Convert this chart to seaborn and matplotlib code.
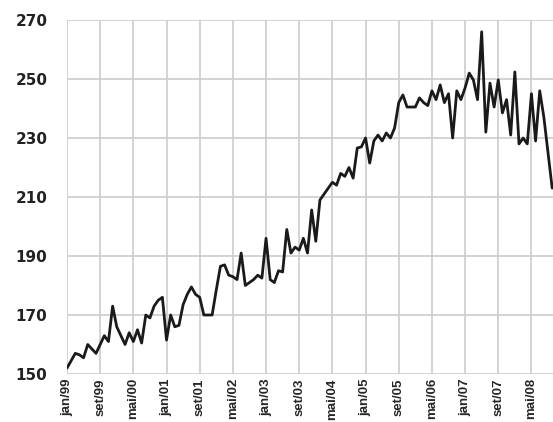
import matplotlib
matplotlib.use("Agg")
import matplotlib.pyplot as plt
import seaborn as sns
import pandas as pd

# Monthly index values, jan/99 .. oct/08
values = [
    152, 154.5, 157, 156.5, 155.5, 160, 158.5, 157, 160, 163, 161, 173,
    166, 163, 160, 164, 161, 165, 160.5, 170, 169, 173, 175, 176,
    161.5, 170, 166, 166.5, 173.5, 177, 179.5, 177, 176, 170, 170, 170,
    178.5, 186.5, 187, 183.5, 183, 182, 191, 180, 181, 182, 183.5, 182.5,
    196, 182, 181, 185, 184.6, 199, 191, 193, 192, 196, 191, 205.6,
    195, 209, 211, 213, 215, 214, 218, 217, 220, 216.4, 226.6, 227,
    230, 221.5, 229, 231, 229, 231.7, 230, 233.4, 242, 244.6, 240.5, 240.5,
    240.5, 243.6, 242, 241, 246, 243, 248, 242, 245, 230, 246, 243,
    247, 252, 249.7, 243, 266, 232, 248.6, 240.5, 249.7, 238.5, 243, 231,
    252.4, 228, 230, 228, 245, 229, 246, 237, 225, 213,
]
month_names = ["jan", "fev", "mar", "abr", "mai", "jun",
               "jul", "ago", "set", "out", "nov", "dez"]
tick_every = 8
y_ticks = [150, 170, 190, 210, 230, 250, 270]

months = list(range(len(values)))
labels = [f"{month_names[m % 12]}/{(99 + m // 12) % 100:02d}" for m in months]
df = pd.DataFrame({"month": months, "value": values})

sns.set_style("white")
fig = plt.figure(figsize=(5.53, 4.22), dpi=100)
ax = fig.add_axes([67 / 553, 1 - 374 / 422, 1 - 67 / 553, (374 - 20) / 422])

sns.lineplot(data=df, x="month", y="value", ax=ax, color="#1a1a1a",
             linewidth=2.0)

tick_pos = months[::tick_every]
ax.set_xticks(tick_pos)
ax.set_xticklabels([labels[i] for i in tick_pos], rotation=90,
                   fontsize=9.5, fontweight="bold",
                   family=["Liberation Sans Narrow", "Liberation Sans"])
ax.set_yticks(y_ticks)
ax.set_yticklabels([str(v) for v in y_ticks], fontsize=11,
                   fontweight="bold", color="#222222",
                   family=["DejaVu Sans"])
ax.set_xlim(0, 117.2)
ax.set_ylim(150, 270)
ax.set_xlabel("")
ax.set_ylabel("")
ax.grid(True, color="#cccccc", linewidth=1.2)
ax.set_axisbelow(True)
for s in ax.spines.values():
    s.set_visible(False)
ax.tick_params(axis="both", length=0)
ax.tick_params(axis="y", pad=14)
ax.tick_params(axis="x", pad=3)

fig.savefig("out.png", dpi=100)
